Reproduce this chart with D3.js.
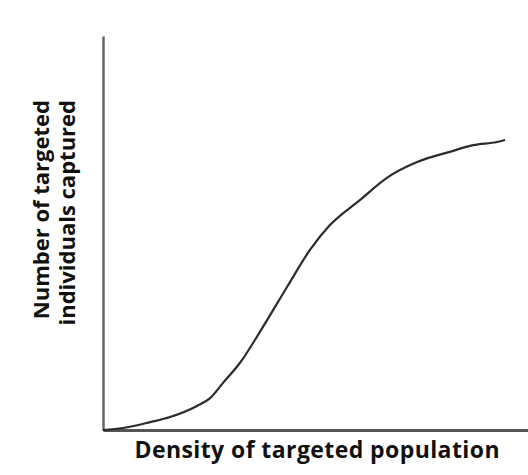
<!DOCTYPE html>
<html>
<head>
<meta charset="utf-8">
<script src="https://cdn.jsdelivr.net/npm/d3@7"></script>
<style>
  html, body { margin: 0; padding: 0; background: #fff; }
  svg { display: block; }
  text { font-family: "Open Sans", "Lato", sans-serif; font-weight: 700; fill: #111; }
</style>
</head>
<body>
<svg id="chart" width="528" height="475"></svg>
<script>
// Density of targeted population (arbitrary units)
const density = [0, 0.47, 1.11, 1.58, 2.21, 2.52, 2.82, 3.22, 3.76, 4.33, 4.87, 5.34, 6.05, 6.68, 7.39, 8.16, 8.71, 9.27, 9.46];
// Number of targeted individuals captured (arbitrary units)
const captured = [0, 0.05, 0.2, 0.33, 0.61, 0.81, 1.19, 1.70, 2.61, 3.63, 4.57, 5.20, 5.84, 6.40, 6.80, 7.06, 7.23, 7.31, 7.36];
const xLabel = "Density of targeted population";
const yLabelLines = ["Number of targeted", "individuals captured"];

const svg = d3.select("#chart");
const mLeft = 103, mRight = 528, mTop = 36, mBottom = 430;

const x = d3.scaleLinear().domain([0, 10]).range([mLeft, mRight]);
const y = d3.scaleLinear().domain([0, 10]).range([mBottom, mTop]);

// axes (no ticks)
const xAxis = d3.axisBottom(x).tickValues([]).tickSizeOuter(0);
const yAxis = d3.axisLeft(y).tickValues([]).tickSizeOuter(0);
svg.append("g").attr("transform", `translate(0,${mBottom})`).call(xAxis)
  .select(".domain").attr("stroke", "#555").attr("stroke-width", 3);
svg.append("g").attr("transform", `translate(${mLeft},0)`).call(yAxis)
  .select(".domain").attr("stroke", "#666").attr("stroke-width", 2.5);

const pts = density.map((d, i) => [d, captured[i]]);
const line = d3.line().x(d => x(d[0])).y(d => y(d[1])).curve(d3.curveMonotoneX);
svg.append("path").datum(pts).attr("d", line)
  .attr("fill", "none").attr("stroke", "#2b2b2b").attr("stroke-width", 2.2);

svg.append("text").attr("x", 317).attr("y", 458)
  .attr("text-anchor", "middle").attr("font-size", 23)
  .attr("textLength", 365).attr("lengthAdjust", "spacing").text(xLabel);

const ylX = [49, 75];
yLabelLines.forEach((t, i) => {
  svg.append("text").attr("transform", `translate(${ylX[i]},100) rotate(-90)`)
    .attr("text-anchor", "end").attr("font-size", 22).text(t);
});
</script>
</body>
</html>
